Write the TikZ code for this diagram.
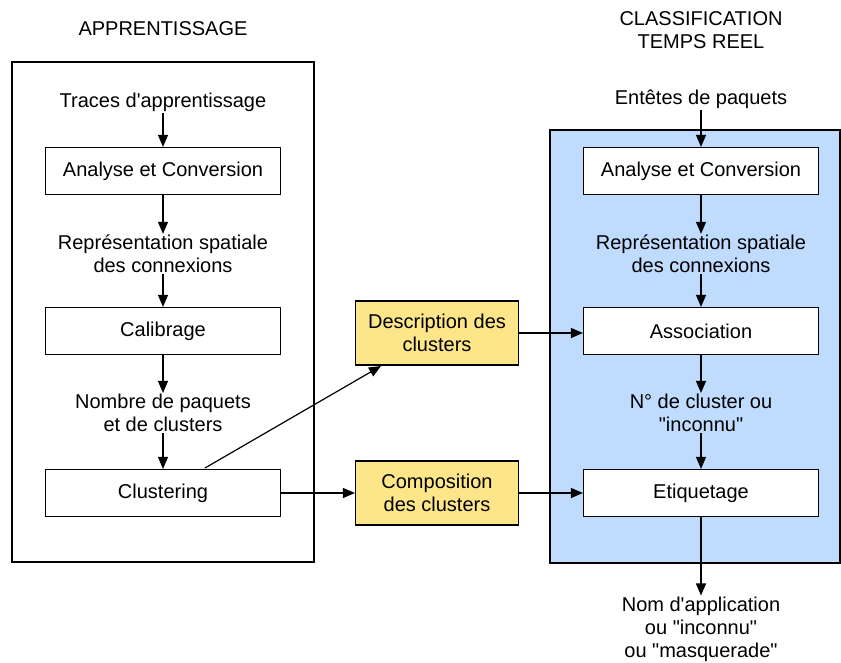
\documentclass[tikz,border=0pt]{standalone}
\usepackage{fontspec}
\setmainfont{Liberation Sans}
\usetikzlibrary{arrows.meta}
\definecolor{panelblue}{HTML}{BFDBFE}
\definecolor{boxyellow}{HTML}{FDE58A}
\newcommand{\dq}{\textquotedbl}
\newcommand{\sq}{\textquotesingle}
\tikzset{
  every node/.style={font=\fontsize{20}{23}\selectfont, align=center},
  stepbox/.style={draw=black, line width=1.2pt, fill=white, minimum width=235pt, minimum height=47pt, inner sep=0pt},
  ybox/.style={draw=black, line width=1.2pt, fill=boxyellow, minimum width=163pt, minimum height=64pt, inner sep=0pt},
  lbl/.style={inner sep=1pt},
  arr/.style={line width=1.2pt, -{Triangle[length=12pt,width=10pt]}},
}
\begin{document}
\begin{tikzpicture}[x=1pt,y=-1pt]
\useasboundingbox (0,0) rectangle (841,663);
% panels
\draw[line width=1.2pt] (12,62) rectangle (314,562);
\draw[line width=1.2pt, fill=panelblue] (550,130) rectangle (840,563);
% titles
\node[lbl] (tL) at (163,29) {APPRENTISSAGE};
\node[lbl] (tR) at (701,30) {CLASSIFICATION\\TEMPS REEL};
% left column
\node[lbl] (traces) at (163,102) {Traces d\sq apprentissage};
\node[stepbox] (ac1) at (163,171) {Analyse et Conversion};
\node[lbl] (rep1) at (163,254) {Représentation spatiale\\des connexions};
\node[stepbox] (calib) at (163,331) {Calibrage};
\node[lbl] (nb) at (163,413) {Nombre de paquets\\et de clusters};
\node[stepbox] (clus) at (163,493) {Clustering};
% yellow boxes
\node[ybox] (desc) at (437,333) {Description des\\clusters};
\node[ybox] (comp) at (437,493) {Composition\\des clusters};
% right column
\node[lbl] (ent) at (701,99) {Entêtes de paquets};
\node[stepbox] (ac2) at (701,171) {Analyse et Conversion};
\node[lbl] (rep2) at (701,254) {Représentation spatiale\\des connexions};
\node[stepbox] (assoc) at (701,331) {Association};
\node[lbl] (num) at (701,413) {N° de cluster ou\\\dq inconnu\dq};
\node[stepbox] (etiq) at (701,493) {Etiquetage};
\node[lbl] (out) at (701,629) {Nom d\sq application\\ou \dq inconnu\dq\\ou \dq masquerade\dq};
% arrows left
\draw[arr] (traces) -- (ac1);
\draw[arr] (ac1) -- (rep1);
\draw[arr] (rep1) -- (calib);
\draw[arr] (calib) -- (nb);
\draw[arr] (nb) -- (clus);
% cross arrows
\coordinate (cs) at (205,468);
\coordinate (de) at (381,366);
\draw[arr] (cs) -- (de);
\draw[arr] (clus.east) -- (comp.west);
\draw[arr] (desc.east) -- (desc.east -| assoc.west);
\draw[arr] (comp.east) -- (etiq.west);
% arrows right
\draw[arr] (ent) -- (ac2);
\draw[arr] (ac2) -- (rep2);
\draw[arr] (rep2) -- (assoc);
\draw[arr] (assoc) -- (num);
\draw[arr] (num) -- (etiq);
\draw[arr] (etiq) -- (out);
\end{tikzpicture}
\end{document}
